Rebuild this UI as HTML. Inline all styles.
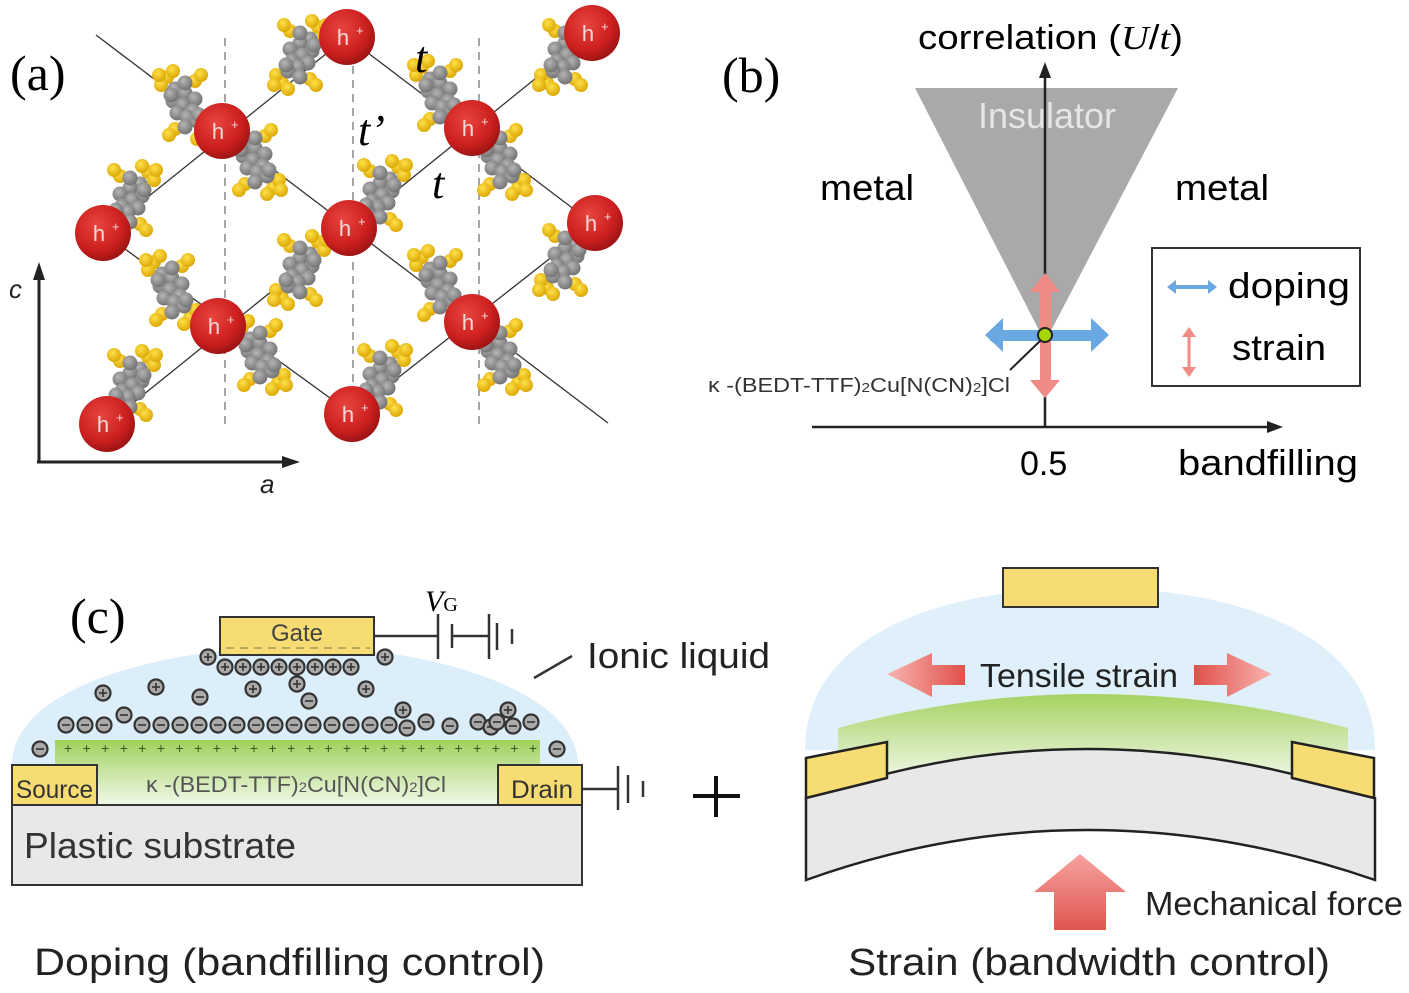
<!DOCTYPE html>
<html><head><meta charset="utf-8"><style>
html,body{margin:0;padding:0;background:#fff;}
svg{display:block;font-family:"Liberation Sans",sans-serif;}
</style></head><body>
<svg id="s" width="1409" height="993" viewBox="0 0 1409 993" xmlns="http://www.w3.org/2000/svg">
<defs>
<radialGradient id="red" cx="0.4" cy="0.35" r="0.65"><stop offset="0" stop-color="#e8453f"/><stop offset="0.7" stop-color="#cc1f1f"/><stop offset="1" stop-color="#a01515"/></radialGradient>
<radialGradient id="gray" cx="0.4" cy="0.35" r="0.7"><stop offset="0" stop-color="#b5b5b5"/><stop offset="1" stop-color="#6e6e6e"/></radialGradient>
<radialGradient id="yel" cx="0.4" cy="0.35" r="0.7"><stop offset="0" stop-color="#ffe04a"/><stop offset="1" stop-color="#d9a400"/></radialGradient>
<linearGradient id="green" x1="0" y1="0" x2="0" y2="1"><stop offset="0" stop-color="#9fd15a"/><stop offset="1" stop-color="#eef7e4" stop-opacity="0.9"/></linearGradient>
<linearGradient id="green2" x1="0" y1="0" x2="0" y2="1"><stop offset="0" stop-color="#a6d262"/><stop offset="1" stop-color="#f0f8e8"/></linearGradient>
<linearGradient id="rarU" x1="0" y1="0" x2="0" y2="1"><stop offset="0" stop-color="#f6a3a0"/><stop offset="1" stop-color="#e0554f"/></linearGradient>
<linearGradient id="rarL" x1="0" y1="0" x2="1" y2="0"><stop offset="0" stop-color="#f9b5b0"/><stop offset="1" stop-color="#e0504a"/></linearGradient>
<linearGradient id="rarR" x1="0" y1="0" x2="1" y2="0"><stop offset="0" stop-color="#e0504a"/><stop offset="1" stop-color="#f9b5b0"/></linearGradient>
</defs>

<!-- (a) -->
<g id="a">
<g stroke="#888" stroke-width="1.5" stroke-dasharray="8,6">
<line x1="225" y1="38" x2="225" y2="425"/><line x1="353" y1="38" x2="353" y2="425"/><line x1="479" y1="38" x2="479" y2="425"/>
</g>
<g stroke="#333" stroke-width="1.3">
<line x1="96" y1="35" x2="608" y2="423"/>
<line x1="347" y1="37" x2="600" y2="229"/>
<line x1="103" y1="233" x2="352" y2="414"/>
<line x1="103" y1="233" x2="347" y2="37"/>
<line x1="107" y1="424" x2="592" y2="33"/>
<line x1="352" y1="414" x2="595" y2="223"/>
</g>
<g id="mols"></g>
<g id="atoms"></g>
<text x="10" y="90" font-family="Liberation Serif" font-size="50">(a)</text>
<text x="415" y="72" font-family="Liberation Serif" font-style="italic" font-size="44">t</text>
<text x="358" y="145" font-family="Liberation Serif" font-style="italic" font-size="44">t’</text>
<text x="432" y="198" font-family="Liberation Serif" font-style="italic" font-size="44">t</text>
<line x1="39" y1="463" x2="39" y2="275" stroke="#222" stroke-width="3"/>
<polygon points="39,262 33,280 45,280" fill="#222"/>
<line x1="37" y1="462" x2="288" y2="462" stroke="#222" stroke-width="3"/>
<polygon points="300,462 282,456 282,468" fill="#222"/>
<text x="9" y="298" font-style="italic" font-size="26" fill="#222">c</text>
<text x="260" y="493" font-style="italic" font-size="26" fill="#222">a</text>
</g>

<!-- (b) -->
<text x="722" y="92" font-family="Liberation Serif" font-size="50">(b)</text>
<polygon points="915,88 1178,88 1045,342" fill="#a9a9a9"/>
<text x="1047" y="128" font-size="36" fill="#e6e6e6" text-anchor="middle">Insulator</text>
<line x1="1045" y1="427" x2="1045" y2="75" stroke="#222" stroke-width="2.5"/>
<polygon points="1045,62 1039,78 1051,78" fill="#222"/>
<line x1="812" y1="427" x2="1270" y2="427" stroke="#222" stroke-width="2.5"/>
<polygon points="1283,427 1267,421 1267,433" fill="#222"/>
<text x="918" y="49" font-size="34" textLength="265" lengthAdjust="spacingAndGlyphs">correlation (<tspan font-family="Liberation Serif" font-style="italic">U</tspan>/<tspan font-family="Liberation Serif" font-style="italic">t</tspan>)</text>
<text x="820" y="200" font-size="36" textLength="94" lengthAdjust="spacingAndGlyphs">metal</text>
<text x="1175" y="200" font-size="36" textLength="94" lengthAdjust="spacingAndGlyphs">metal</text>
<text x="1020" y="475" font-size="34">0.5</text>
<text x="1178" y="475" font-size="36" textLength="180" lengthAdjust="spacingAndGlyphs">bandfilling</text>
<rect x="1040" y="287" width="11" height="96" fill="#f08a85"/>
<polygon points="1045,273 1030,292 1060,292" fill="#f08a85"/>
<polygon points="1045,398 1030,380 1060,380" fill="#f08a85"/>
<rect x="990" y="330" width="110" height="11" fill="#6aa8e2"/>
<polygon points="985,335 1003,318 1003,352" fill="#6aa8e2"/>
<polygon points="1109,335 1091,318 1091,352" fill="#6aa8e2"/>
<circle cx="1045" cy="335" r="7" fill="#a8d400" stroke="#222" stroke-width="2"/>
<line x1="1040" y1="341" x2="1010" y2="370" stroke="#222" stroke-width="2"/>
<text x="708" y="392" font-size="20" fill="#333" textLength="302" lengthAdjust="spacingAndGlyphs">κ -(BEDT-TTF)<tspan font-size="13">2</tspan>Cu[N(CN)<tspan font-size="13">2</tspan>]Cl</text>
<rect x="1152" y="248" width="208" height="138" fill="none" stroke="#333" stroke-width="2"/>
<line x1="1172" y1="287" x2="1212" y2="287" stroke="#6aa8e2" stroke-width="4"/>
<polygon points="1167,287 1176,280 1176,294" fill="#6aa8e2"/>
<polygon points="1217,287 1208,280 1208,294" fill="#6aa8e2"/>
<text x="1228" y="298" font-size="36" textLength="122" lengthAdjust="spacingAndGlyphs">doping</text>
<line x1="1189" y1="332" x2="1189" y2="372" stroke="#f08a85" stroke-width="3"/>
<polygon points="1189,327 1182,337 1196,337" fill="#f08a85"/>
<polygon points="1189,377 1182,367 1196,367" fill="#f08a85"/>
<text x="1232" y="360" font-size="36" textLength="94" lengthAdjust="spacingAndGlyphs">strain</text>

<!-- (c) left -->
<text x="70" y="633" font-family="Liberation Serif" font-size="50">(c)</text>
<path d="M12,765 C12,690 150,650 290,646 C430,646 578,690 578,765 Z" fill="#dbeefa"/>
<rect x="55" y="740" width="485" height="65" fill="url(#green)"/>
<g id="plus"></g>
<g id="ions"></g>
<rect x="12" y="805" width="570" height="80" fill="#e8e8e8" stroke="#333" stroke-width="2"/>
<text x="24" y="858" font-size="36" fill="#333" textLength="272" lengthAdjust="spacingAndGlyphs">Plastic substrate</text>
<rect x="12" y="765" width="85" height="40" fill="#f6dc73" stroke="#333" stroke-width="2"/>
<text x="16" y="798" font-size="25" fill="#333" textLength="77" lengthAdjust="spacingAndGlyphs">Source</text>
<rect x="498" y="765" width="84" height="40" fill="#f6dc73" stroke="#333" stroke-width="2"/>
<text x="511" y="798" font-size="25" fill="#333" textLength="62" lengthAdjust="spacingAndGlyphs">Drain</text>
<text x="146" y="792" font-size="22" fill="#555" textLength="300" lengthAdjust="spacingAndGlyphs">κ -(BEDT-TTF)<tspan font-size="14">2</tspan>Cu[N(CN)<tspan font-size="14">2</tspan>]Cl</text>
<rect x="220" y="617" width="154" height="38" fill="#f6dc73" stroke="#333" stroke-width="2"/>
<line x1="226" y1="648" x2="370" y2="648" stroke="#b8a860" stroke-width="2" stroke-dasharray="8,6"/>
<text x="297" y="641" font-size="24" fill="#444" text-anchor="middle">Gate</text>
<g stroke="#333" stroke-width="2.5" fill="none">
<line x1="374" y1="636" x2="437" y2="636"/><line x1="438" y1="614" x2="438" y2="659"/>
<line x1="452" y1="624" x2="452" y2="648"/><line x1="452" y1="636" x2="488" y2="636"/>
<line x1="489" y1="614" x2="489" y2="659"/><line x1="497" y1="623" x2="497" y2="650"/><line x1="512" y1="629" x2="512" y2="644"/>
<line x1="582" y1="789" x2="617" y2="789"/><line x1="618" y1="766" x2="618" y2="810"/><line x1="628" y1="775" x2="628" y2="803"/><line x1="643" y1="781" x2="643" y2="797"/>
<line x1="534" y1="678" x2="572" y2="656"/>
</g>
<text x="425" y="611" font-family="Liberation Serif" font-style="italic" font-size="30">V<tspan font-style="normal" font-size="20">G</tspan></text>
<text x="587" y="668" font-size="36" fill="#222" textLength="183" lengthAdjust="spacingAndGlyphs">Ionic liquid</text>
<text x="34" y="975" font-size="38" fill="#222" textLength="511" lengthAdjust="spacingAndGlyphs">Doping (bandfilling control)</text>

<line x1="716" y1="776" x2="716" y2="817" stroke="#111" stroke-width="4"/>
<line x1="693" y1="796" x2="740" y2="796" stroke="#111" stroke-width="4"/>

<!-- (c) right -->
<path d="M805,750 C805,640 930,588 1090,588 C1250,588 1375,640 1375,750 Z" fill="#dff0fb"/>
<path d="M838,728 Q1090,660 1348,728 L1348,780 L838,780 Z" fill="url(#green2)"/>
<rect x="1003" y="568" width="155" height="39" fill="#f6dc73" stroke="#333" stroke-width="2"/>
<path d="M806,798 Q1085,700 1375,798 L1375,880 Q1085,780 806,880 Z" fill="#e8e8e8" stroke="#222" stroke-width="2.5"/>
<polygon points="806,758 887,742 887,778 806,798" fill="#f6dc73" stroke="#222" stroke-width="2.5"/>
<polygon points="1292,742 1374,758 1374,798 1292,778" fill="#f6dc73" stroke="#222" stroke-width="2.5"/>
<polygon points="887,674 932,653 932,665 965,665 965,685 932,685 932,697" fill="url(#rarL)"/>
<polygon points="1272,674 1227,653 1227,665 1194,665 1194,685 1227,685 1227,697" fill="url(#rarR)"/>
<text x="980" y="687" font-size="33" fill="#222" textLength="198" lengthAdjust="spacingAndGlyphs">Tensile strain</text>
<polygon points="1080,854 1126,892 1106,892 1106,930 1054,930 1054,892 1034,892" fill="url(#rarU)"/>
<text x="1145" y="915" font-size="33" fill="#222" textLength="258" lengthAdjust="spacingAndGlyphs">Mechanical force</text>
<text x="848" y="975" font-size="38" fill="#222" textLength="482" lengthAdjust="spacingAndGlyphs">Strain (bandwidth control)</text>
</svg>
<script>
var NS="http://www.w3.org/2000/svg";
function el(p,t,a){var e=document.createElementNS(NS,t);for(var k in a)e.setAttribute(k,a[k]);p.appendChild(e);return e;}
var mols=document.getElementById("mols");
var M=[[185,105,1],[300,55,-1],[440,95,1],[565,55,-1],[130,200,-1],[255,160,1],[380,195,-1],[500,160,1],[172,290,1],[300,270,-1],[440,285,1],[565,260,-1],[130,385,-1],[260,355,1],[380,380,-1],[500,355,1]];
M.forEach(function(m){var x=m[0],y=m[1],d=m[2];
 [[-18,-28],[-12,-34],[-24,-20],[-26,-30],[-10,24],[-16,30],[18,28],[12,34],[24,20],[26,30],[10,-24],[16,-30]].forEach(function(p){el(mols,"circle",{cx:x+p[0]*d,cy:y+p[1],r:7,fill:"url(#yel)"});});
 [[-10,-16],[0,-12],[10,-6],[-12,-4],[-2,0],[8,6],[-8,8],[2,12],[12,16],[-14,-10],[14,10],[0,-22],[0,22]].forEach(function(p){el(mols,"circle",{cx:x+p[0]*d,cy:y+p[1],r:7.5,fill:"url(#gray)"});});
});
var at=document.getElementById("atoms");
[[347,37],[592,33],[222,131],[472,128],[103,233],[349,228],[595,223],[218,326],[472,322],[107,424],[352,414]].forEach(function(p){
 el(at,"circle",{cx:p[0],cy:p[1],r:28,fill:"url(#red)"});
 var t=el(at,"text",{x:p[0]-4,y:p[1]+8,"font-size":22,fill:"#f4d8d8","text-anchor":"middle"});t.textContent="h";
 var s=el(at,"text",{x:p[0]+9,y:p[1]-2,"font-size":13,fill:"#f4d8d8"});s.textContent="+";
});
var pl=document.getElementById("plus");
for(var x=68;x<535;x+=18.6){var t=el(pl,"text",{x:x,y:753,"font-size":14,fill:"#3a5a20","text-anchor":"middle"});t.textContent="+";}
var io=document.getElementById("ions");
function ion(x,y,plus){el(io,"circle",{cx:x,cy:y,r:7.5,fill:"#aaa",stroke:"#333","stroke-width":2.2});
 el(io,"line",{x1:x-4,y1:y,x2:x+4,y2:y,stroke:"#333","stroke-width":1.6});
 if(plus)el(io,"line",{x1:x,y1:y-4,x2:x,y2:y+4,stroke:"#333","stroke-width":1.6});}
[66,85,104,142,161,180,199,218,237,256,275,294,313,332,351,370,389].forEach(function(x){ion(x,725,0);});
[407,426,450,478,491,497,513,531].forEach(function(x,i){ion(x,[728,722,726,722,727,722,726,722][i],0);});
ion(124,715,0);ion(40,749,0);ion(557,749,0);ion(403,710,1);ion(508,710,1);
[225,243,261,279,297,315,333,351].forEach(function(x){ion(x,667,1);});
ion(208,657,1);ion(385,657,1);
ion(103,693,1);ion(156,687,1);ion(200,697,0);ion(253,689,1);ion(297,684,1);ion(309,701,0);ion(366,689,1);
</script>
</body></html>
